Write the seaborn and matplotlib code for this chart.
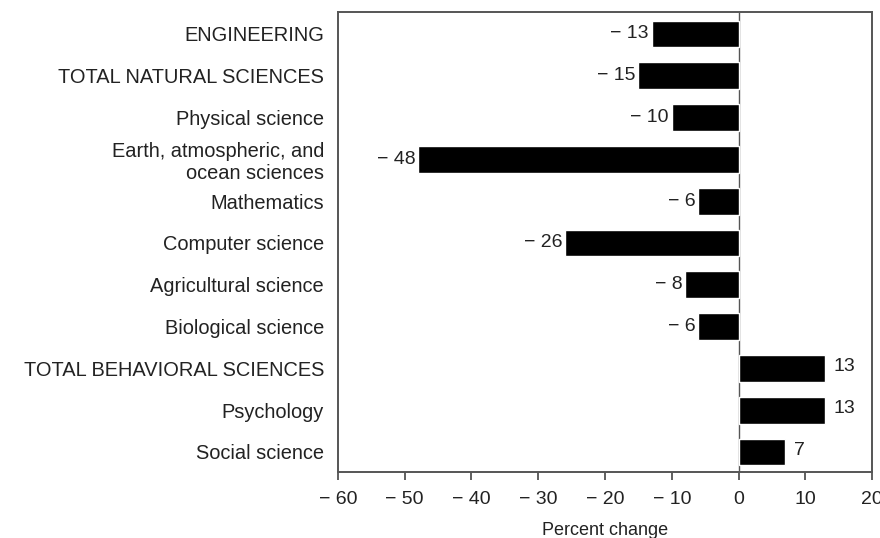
import matplotlib
matplotlib.use("Agg")
import matplotlib.pyplot as plt
import seaborn as sns
import pandas as pd

# data
fields = [
    "ENGINEERING",
    "TOTAL NATURAL SCIENCES",
    "Physical science",
    "Earth, atmospheric, and\nocean sciences",
    "Mathematics",
    "Computer science",
    "Agricultural science",
    "Biological science",
    "TOTAL BEHAVIORAL SCIENCES",
    "Psychology",
    "Social science",
]
pct_change = [-13, -15, -10, -48, -6, -26, -8, -6, 13, 13, 7]
x_ticks = [-60, -50, -40, -30, -20, -10, 0, 10, 20]

df = pd.DataFrame({"field": fields, "change": pct_change})

sns.set_style("white")
plt.rcParams["font.family"] = ["Liberation Sans", "DejaVu Sans"]
ink = "#222222"

fig = plt.figure(figsize=(8.8, 5.38), dpi=100)
ax = fig.add_axes([0.384, 0.1227, 0.607, 0.8553])

sns.barplot(data=df, x="change", y="field", color="black", width=0.64,
            orient="h", saturation=1, ax=ax)

ax.axvline(0, color="#555555", lw=1.0, zorder=0)

# value labels next to the bar ends
for i, v in enumerate(pct_change):
    if v < 0:
        ax.annotate("\u2212 " + str(abs(v)), (v, i), xytext=(-2, 0),
                    textcoords="offset points", ha="right", va="center",
                    fontsize=14, color=ink)
    else:
        ax.annotate(str(v), (v, i), xytext=(6, 1),
                    textcoords="offset points", ha="left", va="center",
                    fontsize=14, color=ink)

ax.set_xlim(-60, 20)
ax.set_ylim(10.48, -0.53)
ax.set_xticks(x_ticks)
ax.set_xticklabels([("\u2212 " + str(abs(t))) if t < 0 else str(t) for t in x_ticks])
ax.set_xlabel("Percent change", fontsize=13, color=ink, labelpad=10)
ax.set_ylabel("")

ax.tick_params(axis="x", bottom=True, direction="out", length=6, width=1.2,
               colors="#444444", labelcolor=ink, labelsize=14, pad=8)
ax.tick_params(axis="y", left=False, length=0, labelsize=14.4, labelcolor=ink, pad=10)

for s in ax.spines.values():
    s.set_visible(True)
    s.set_color("#555555")
    s.set_linewidth(1.4)

fig.savefig("out.png", dpi=100)
